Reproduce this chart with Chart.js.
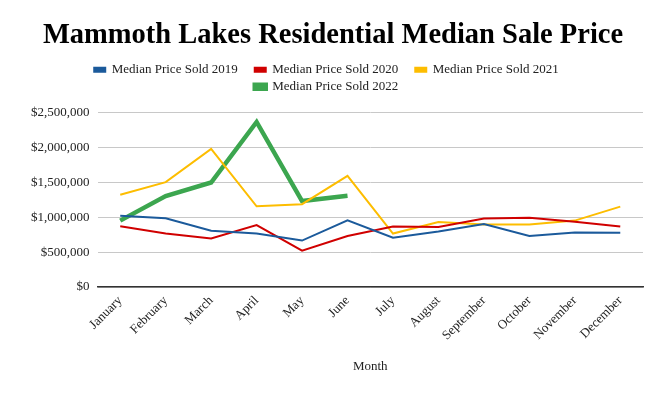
<!DOCTYPE html>
<html>
<head>
<meta charset="utf-8">
<script src="https://cdn.jsdelivr.net/npm/chart.js@4.4.1/dist/chart.umd.min.js"></script>
<style>
  html, body { margin: 0; padding: 0; background: #fff; }
  #wrap { width: 663px; height: 393px; }
</style>
</head>
<body>
<div id="wrap"><canvas id="mainChart" width="663" height="393"></canvas></div>
<script>
// data
const months = ['January', 'February', 'March', 'April', 'May', 'June', 'July',
  'August', 'September', 'October', 'November', 'December'];
const sold2019 = [1020000, 985000, 805000, 765000, 665000, 955000, 705000, 795000, 900000, 730000, 780000, 775000];
const sold2020 = [870000, 765000, 695000, 885000, 520000, 730000, 865000, 860000, 980000, 990000, 935000, 865000];
const sold2021 = [1320000, 1500000, 1975000, 1155000, 1185000, 1590000, 765000, 930000, 895000, 895000, 950000, 1150000];
const sold2022 = [950000, 1300000, 1495000, 2360000, 1230000, 1305000, null, null, null, null, null, null];
const yTicks = [0, 500000, 1000000, 1500000, 2000000, 2500000];

const FONT = "'Liberation Serif', 'Times New Roman', serif";

function series(label, data, color, width) {
  return {
    label: label, data: data,
    borderColor: color, backgroundColor: color,
    borderWidth: width, pointRadius: 0, tension: 0, spanGaps: false
  };
}

// extra room under the legend
const legendMargin = {
  id: 'legendMargin',
  beforeInit(chart) {
    const fit = chart.legend.fit;
    chart.legend.fit = function() { fit.bind(chart.legend)(); this.height += 9; };
  }
};

window.mainChart = new Chart(document.getElementById('mainChart'), {
  type: 'line',
  data: {
    labels: months,
    datasets: [
      series('Median Price Sold 2019', sold2019, '#1b5a9b', 2),
      series('Median Price Sold 2020', sold2020, '#d00000', 2),
      series('Median Price Sold 2021', sold2021, '#fdbd00', 2),
      series('Median Price Sold 2022', sold2022, '#3ca64f', 4.5)
    ]
  },
  options: {
    responsive: false,
    animation: false,
    layout: { padding: { left: 23, right: 20, top: 10, bottom: 15 } },
    scales: {
      x: {
        offset: true,
        grid: { display: false, drawTicks: false, offset: true },
        border: { display: true, color: '#333', width: 1.5 },
        ticks: {
          minRotation: 45, maxRotation: 45, padding: 6,
          color: '#222', font: { family: FONT, size: 13 }
        },
        title: {
          display: true, text: 'Month', color: '#222',
          font: { family: FONT, size: 13 }, padding: { top: 9 }
        }
      },
      y: {
        min: 0, max: 2500000,
        afterBuildTicks: (axis) => { axis.ticks = yTicks.map(v => ({ value: v })); },
        grid: { color: '#c8c8c8', drawTicks: false },
        border: { display: false },
        ticks: {
          padding: 8, color: '#222', font: { family: FONT, size: 13 },
          callback: (v) => '$' + Number(v).toLocaleString('en-US')
        }
      }
    },
    plugins: {
      title: {
        display: true,
        text: 'Mammoth Lakes Residential Median Sale Price',
        color: '#000',
        font: { family: FONT, size: 28.5, weight: 'bold' },
        padding: { top: 9, bottom: 6 }
      },
      legend: {
        display: true,
        position: 'top',
        labels: {
          boxWidth: 11, boxHeight: 4, padding: 4,
          color: '#222', font: { family: FONT, size: 13 },
          generateLabels: (chart) => Chart.defaults.plugins.legend.labels.generateLabels(chart)
            .map(item => Object.assign(item, { text: item.text + '    ' }))
        }
      },
      tooltip: { enabled: false }
    }
  },
  plugins: [legendMargin]
});
</script>
</body>
</html>
